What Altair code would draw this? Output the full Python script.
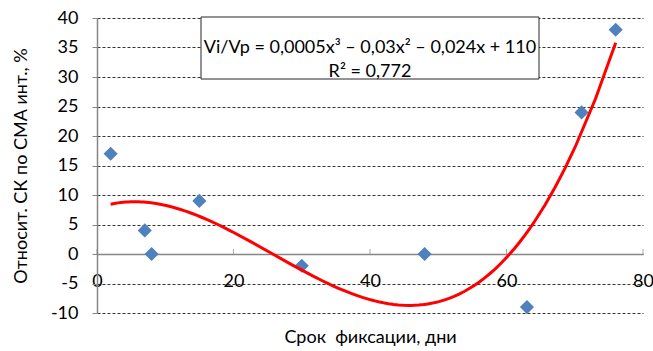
import altair as alt
import pandas as pd

# Fixation time (days) and relative SC change by SMA (%)
days = [2, 7, 8, 15, 30, 48, 63, 71, 76]
rel_sc = [17, 4, 0, 9, -2, 0, -9, 24, 38]

x_ticks = [0, 20, 40, 60, 80]
y_ticks = [-10, -5, 0, 5, 10, 15, 20, 25, 30, 35, 40]
eq_lines = ["Vi/Vp = 0,0005x³ – 0,03x² – 0,024x + 110", "R² = 0,772"]

FONT = "Lato"
W, H = 546, 295
AXIS_GRAY = "#868686"
PLAIN_LABEL = "'' + datum.value"  # hyphen-minus for negatives

df = pd.DataFrame({"day": days, "val": rel_sc})
ticks_df = pd.DataFrame({"day": x_ticks})
box_df = pd.DataFrame({"k": [0]})

x_scale = alt.Scale(domain=[0, 80], nice=False)
y_scale = alt.Scale(domain=[-10, 40], nice=False)

x_axis = alt.Axis(
    values=x_ticks, tickCount=5, title="Срок\u00a0 фиксации, дни", offset=-59,
    ticks=False, grid=False, labelPadding=18, titlePadding=38,
    labelOverlap=False, labelFlush=False, labelExpr=PLAIN_LABEL,
    domainColor=AXIS_GRAY, domainWidth=1.5,
    labelFont=FONT, labelFontSize=18, labelColor="black",
    titleFont=FONT, titleFontSize=18, titleFontWeight="normal", titleColor="black",
)
y_axis = alt.Axis(
    values=y_ticks, tickCount=11, title="Относит. СК по СМА инт., %",
    grid=True, gridDash=[3, 2], gridColor="#333333", gridWidth=1,
    tickSize=5, tickColor=AXIS_GRAY, domainColor=AXIS_GRAY, domainWidth=1.5,
    labelPadding=14, titlePadding=20,
    labelOverlap=False, labelFlush=False, labelExpr=PLAIN_LABEL,
    labelFont=FONT, labelFontSize=18, labelColor="black",
    titleFont=FONT, titleFontSize=18, titleFontWeight="normal", titleColor="black",
)

x_enc = alt.X("day:Q", scale=x_scale, axis=x_axis)
y_enc = alt.Y("val:Q", scale=y_scale, axis=y_axis)

points = alt.Chart(df).mark_point(
    shape="diamond", filled=True, size=200, color="#4F81BD", opacity=1
).encode(x=x_enc, y=y_enc)

# cubic polynomial trendline fitted to the points
trend = alt.Chart(df).transform_regression(
    "day", "val", method="poly", order=3
).mark_line(color="#FF0000", strokeWidth=3).encode(x=x_enc, y=y_enc)

# small inward tick marks on the zero-line x axis
x_tick_marks = alt.Chart(ticks_df).mark_tick(
    orient="vertical", size=5, thickness=1, color=AXIS_GRAY, yOffset=-2.5
).encode(x=x_enc, y=alt.YDatum(0, scale=y_scale, axis=y_axis))

# equation label box
box = alt.Chart(box_df).mark_rect(
    fill="white", stroke="#262626", strokeWidth=1
).encode(
    x=alt.value(104), x2=alt.value(442), y=alt.value(-1), y2=alt.value(61)
)
label = alt.Chart(box_df).mark_text(
    text=eq_lines, font=FONT, fontSize=18, lineHeight=24,
    align="center", baseline="middle", color="black"
).encode(x=alt.value(273), y=alt.value(30))

chart = alt.layer(points, trend, x_tick_marks, box, label).properties(
    width=W, height=H,
    padding={"left": 97, "top": 18, "right": 10, "bottom": 38},
    autosize="none",
).configure_view(stroke=None)

chart.save("out.html", embed_options={"renderer": "svg", "actions": False})
